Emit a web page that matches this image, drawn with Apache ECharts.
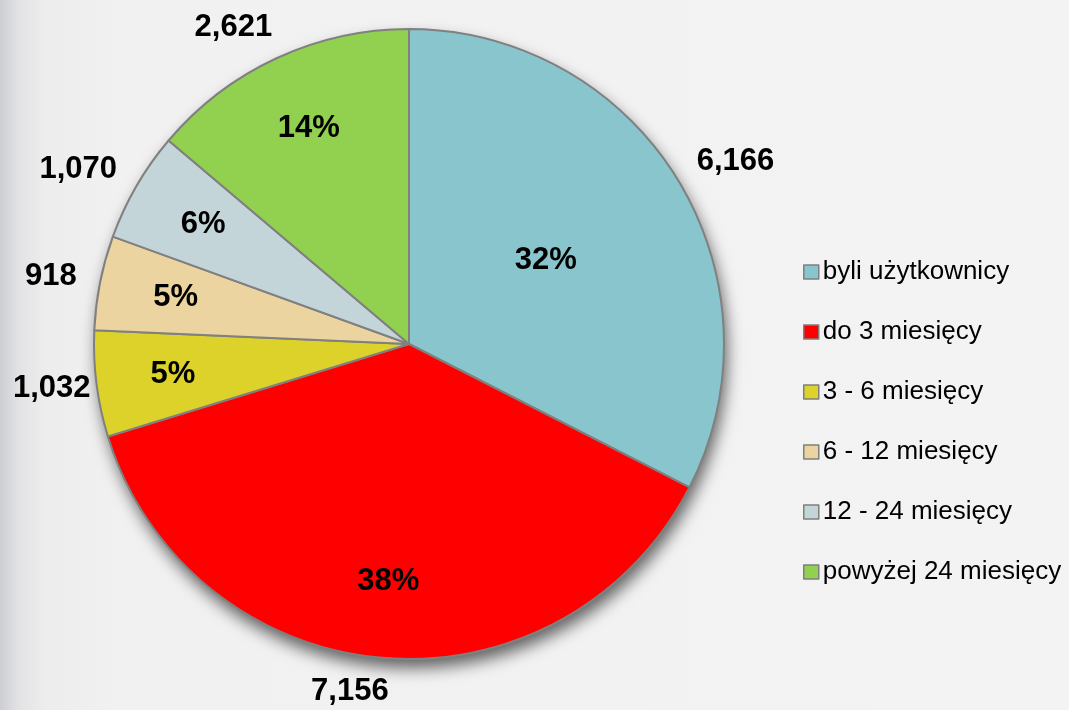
<!DOCTYPE html>
<html>
<head>
<meta charset="utf-8">
<script src="https://cdn.jsdelivr.net/npm/echarts@6/dist/echarts.min.js"></script>
<style>
  html, body { margin: 0; padding: 0; }
  body {
    width: 1069px; height: 710px; overflow: hidden;
    background: linear-gradient(to right, #cdced2 0px, #e2e2e4 18px, #ededee 45px, #f1f1f1 120px, #f3f3f3 100%);
  }
  #chart { width: 1069px; height: 710px; }
</style>
</head>
<body>
<div id="chart"></div>
<script>
const categories = ['byli użytkownicy', 'do 3 miesięcy', '3 - 6 miesięcy', '6 - 12 miesięcy', '12 - 24 miesięcy', 'powyżej 24 miesięcy'];
const values = [6166, 7156, 1032, 918, 1070, 2621];
const colors = ['#88c5cd', '#ff0000', '#dcd22a', '#ecd4a0', '#c3d5d9', '#92d050'];

const FONT = '"Liberation Sans", Arial, sans-serif';
const CENTER = [409, 344];
const R = 315;
const total = values.reduce((a, b) => a + b, 0);

const labelBase = { color: '#000', fontFamily: FONT, fontWeight: 'bold', fontSize: 31 };

const chart = echarts.init(document.getElementById('chart'), null, { renderer: 'canvas' });
chart.setOption({
  backgroundColor: 'transparent',
  animation: false,
  legend: {
    orient: 'vertical',
    left: 798,
    top: 254,
    itemWidth: 15,
    itemHeight: 14,
    itemGap: 34,
    icon: 'rect',
    data: categories,
    itemStyle: { borderColor: '#7f7f7f', borderWidth: 1.5 },
    textStyle: { fontFamily: FONT, fontSize: 26, color: '#000', padding: [0, 0, 0, -1] }
  },
  series: [
    {
      // drop shadow under the whole pie
      type: 'pie', silent: true, center: CENTER, radius: R, startAngle: 90,
      z: 1,
      label: { show: false }, labelLine: { show: false },
      itemStyle: { color: '#808080', shadowBlur: 16, shadowOffsetX: 3, shadowOffsetY: 9, shadowColor: 'rgba(0,0,0,0.6)' },
      data: [{ value: total, name: '__total' }]
    },
    {
      type: 'pie', center: CENTER, radius: R, startAngle: 90, clockwise: true,
      z: 2, percentPrecision: 0,
      itemStyle: { borderColor: '#808080', borderWidth: 2 },
      label: Object.assign({ position: 'inside', formatter: '{d}%' }, labelBase),
      labelLine: { show: false },
      emphasis: { scale: false },
      data: categories.map((n, i) => ({
        name: n, value: values[i], itemStyle: { color: colors[i] },
        label: { show: i === 0 }
      }))
    },
    {
      // percentage labels for the remaining slices, further out
      type: 'pie', silent: true, center: CENTER, radius: [174, 296], startAngle: 90,
      z: 3, percentPrecision: 0,
      itemStyle: { color: 'rgba(0,0,0,0)', borderWidth: 0 },
      label: Object.assign({ position: 'inside', formatter: '{d}%' }, labelBase),
      labelLine: { show: false },
      data: categories.map((n, i) => ({ name: n, value: values[i], label: { show: i !== 0 } }))
    },
    {
      // value labels outside the pie
      type: 'pie', silent: true, center: CENTER, radius: R, startAngle: 90,
      z: 3, avoidLabelOverlap: false,
      itemStyle: { color: 'rgba(0,0,0,0)', borderWidth: 0 },
      label: Object.assign({
        position: 'outside', overflow: 'none', distanceToLabelLine: -10,
        formatter: p => p.value.toLocaleString('en-US')
      }, labelBase),
      labelLine: { show: false, length: 34, length2: 0 },
      labelLayout: p => {
        const r = p.labelRect;
        return r.x < 13 ? { dx: 13 - r.x } : {};
      },
      data: categories.map((n, i) => ({ name: n, value: values[i] }))
    }
  ]
});
</script>
</body>
</html>
